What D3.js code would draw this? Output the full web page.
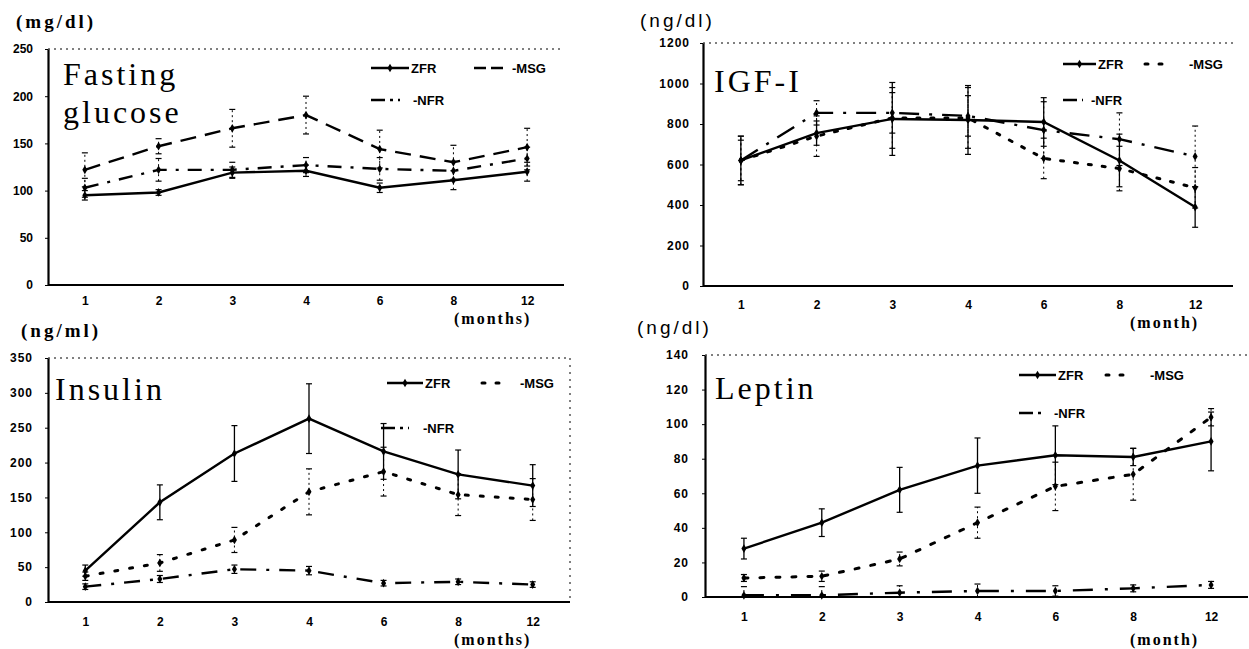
<!DOCTYPE html>
<html><head><meta charset="utf-8">
<script src="https://cdn.jsdelivr.net/npm/d3@7"></script>
<style>
body{margin:0;background:#fff;}
svg{display:block;}
</style></head>
<body>
<svg id="c" width="1249" height="649"></svg>
<script>
// ---- data ----
const months = ["1","2","3","4","6","8","12"];
const seriesNames = ["ZFR","MSG","NFR"];

const glucoseZFR = [95, 98, 119, 121, 103, 111, 120];
const glucoseMSG = [122, 147, 166, 180, 144, 130, 146];
const glucoseNFR = [103, 122, 122, 127, 123, 121, 134];
const glucoseErrZFR = [5, 3, 6, 6, 5, 10, 10];
const glucoseErrMSG = [18, 8, 20, 20, 20, 18, 20];
const glucoseErrNFR = [10, 12, 8, 8, 12, 10, 12];

const igfZFR = [620, 755, 825, 820, 810, 620, 390];
const igfMSG = [620, 740, 830, 830, 630, 580, 485];
const igfNFR = [620, 855, 855, 840, 770, 725, 640];
const igfErrZFR = [120, 60, 180, 170, 120, 130, 100];
const igfErrMSG = [120, 100, 150, 150, 100, 110, 100];
const igfErrNFR = [100, 60, 100, 100, 140, 130, 150];

const insulinZFR = [45, 143, 213, 263, 216, 183, 167];
const insulinMSG = [37, 56, 89, 158, 187, 154, 147];
const insulinNFR = [22, 33, 47, 45, 27, 29, 25];
const insulinErrZFR = [8, 25, 40, 50, 40, 35, 30];
const insulinErrMSG = [6, 12, 18, 33, 35, 30, 30];
const insulinErrNFR = [4, 5, 6, 6, 4, 4, 4];

const leptinZFR = [28, 43, 62, 76, 82, 81, 90];
const leptinMSG = [11, 12, 22, 43, 64, 71, 104];
const leptinNFR = [1, 1, 2.5, 3.5, 3.5, 5, 7];
const leptinErrZFR = [6, 8, 13, 16, 17, 5, 17];
const leptinErrMSG = [2, 3, 4, 9, 14, 15, 5];
const leptinErrNFR = [5, 5, 4, 4, 3, 2, 2];

const glucoseTicks = [0, 50, 100, 150, 200, 250];
const igfTicks = [0, 200, 400, 600, 800, 1000, 1200];
const insulinTicks = [0, 50, 100, 150, 200, 250, 300, 350];
const leptinTicks = [0, 20, 40, 60, 80, 100, 120, 140];

const titles = [["Fasting","glucose"], ["IGF-I"], ["Insulin"], ["Leptin"]];
const units = ["(mg/dl)", "(ng/dl)", "(ng/ml)", "(ng/dl)"];
const xUnits = ["(months)", "(month)", "(months)", "(month)"];

// ---- panels (layout) ----
const panels = [
  {vals:[glucoseZFR,glucoseMSG,glucoseNFR], errs:[glucoseErrZFR,glucoseErrMSG,glucoseErrNFR], ticks:glucoseTicks,
   L:48,R:564,T:49,B:285, title:titles[0], unit:units[0], xunit:xUnits[0],
   unitFont:"bold 19px 'Liberation Serif'", unitX:16, unitY:28, xunitX:454, xunitY:324,
   titleX:63, titleY:85, tickEnd:33, xTickY:301,
   dash:[null,"16,9","14,9,3,9"], dotted:false,
   leg:[{x1:371,x2:409,y:68,tx:411},{x1:474,x2:505,y:68,tx:512},{x1:371,x2:400,y:100,tx:413}]},
  {vals:[igfZFR,igfMSG,igfNFR], errs:[igfErrZFR,igfErrMSG,igfErrNFR], ticks:igfTicks,
   L:703,R:1233,T:43,B:286, title:titles[1], unit:units[1], xunit:xUnits[1],
   unitFont:"19px 'Liberation Sans'", unitX:640, unitY:27, xunitX:1130, xunitY:328,
   titleX:714, titleY:92, tickEnd:690, xTickY:305,
   dash:[null,"3,11","20,10,3,10"], dotted:true,
   leg:[{x1:1063,x2:1096,y:64,tx:1098},{x1:1145,x2:1172,y:64,tx:1189},{x1:1063,x2:1083,y:100,tx:1091}]},
  {vals:[insulinZFR,insulinMSG,insulinNFR], errs:[insulinErrZFR,insulinErrMSG,insulinErrNFR], ticks:insulinTicks,
   L:48,R:570,T:358,B:602, title:titles[2], unit:units[2], xunit:xUnits[2],
   unitFont:"bold 19px 'Liberation Serif'", unitX:21, unitY:337, xunitX:454, xunitY:645,
   titleX:55, titleY:400, tickEnd:33, xTickY:622,
   dash:[null,"3,12","16,10,3,10"], dotted:true,
   leg:[{x1:387,x2:423,y:383,tx:425},{x1:482,x2:504,y:383,tx:520},{x1:381,x2:409,y:428,tx:423}]},
  {vals:[leptinZFR,leptinMSG,leptinNFR], errs:[leptinErrZFR,leptinErrMSG,leptinErrNFR], ticks:leptinTicks,
   L:705,R:1250,T:355,B:597, title:titles[3], unit:units[3], xunit:xUnits[3],
   unitFont:"19px 'Liberation Sans'", unitX:637, unitY:334, xunitX:1130, xunitY:645,
   titleX:715, titleY:399, tickEnd:689, xTickY:617,
   dash:[null,"4,12","20,12,3,12"], dotted:true,
   leg:[{x1:1019,x2:1056,y:375,tx:1058},{x1:1106,x2:1130,y:375,tx:1150},{x1:1019,x2:1041,y:413,tx:1054}]}
];

const svg = d3.select("#c");
const diamond = d3.symbol().type(d3.symbolDiamond).size(22);

panels.forEach((p, pi) => {
  const g = svg.append("g");
  const x = d3.scalePoint().domain(months).range([p.L, p.R]).padding(0.5);
  const y = d3.scaleLinear().domain([0, d3.max(p.ticks)]).range([p.B, p.T]);

  // dotted top border
  g.append("line").attr("x1", p.L).attr("x2", Math.min(p.R, 1248)).attr("y1", y(d3.max(p.ticks))).attr("y2", y(d3.max(p.ticks)))
    .attr("stroke", "#000").attr("stroke-width", 1).attr("stroke-dasharray", "2,4");
  if (pi === 2) {
    g.append("line").attr("x1", p.R).attr("x2", p.R).attr("y1", p.T).attr("y2", p.B)
      .attr("stroke", "#000").attr("stroke-width", 1).attr("stroke-dasharray", "2,5");
  }

  // y axis
  const ya = g.append("g").attr("transform", `translate(${p.L},0)`)
    .call(d3.axisLeft(y).tickValues(p.ticks).tickFormat(d3.format("d")).tickSize(3).tickSizeOuter(0));
  ya.select(".domain").attr("stroke-width", 2.2);
  ya.selectAll("text").attr("x", -(p.L - p.tickEnd)).attr("text-anchor", "end")
    .style("font", "bold 12px 'Liberation Sans'").style("letter-spacing", pi === 0 ? "0px" : "1px").attr("fill", "#000");

  // x axis
  const xa = g.append("g").attr("transform", `translate(0,${p.B})`)
    .call(d3.axisBottom(x).tickSize(0).tickSizeOuter(0));
  xa.select(".domain").attr("stroke-width", 2.2).attr("d", `M${p.L},0H${Math.min(p.R, 1248)}`);
  xa.selectAll("text").attr("y", p.xTickY - p.B).attr("dy", "0.35em")
    .style("font", "bold 12px 'Liberation Sans'").attr("fill", "#000");

  // units
  svg.append("text").attr("x", p.unitX).attr("y", p.unitY).text(p.unit)
    .style("font", p.unitFont).style("letter-spacing", "3px").attr("fill", "#000");
  svg.append("text").attr("x", p.xunitX).attr("y", p.xunitY).text(p.xunit)
    .style("font", "bold 16px 'Liberation Serif'").style("letter-spacing", "2px").attr("fill", "#000");

  // title
  p.title.forEach((t, i) => {
    svg.append("text").attr("x", p.titleX).attr("y", p.titleY + i * 38).text(t)
      .style("font", "32px 'Liberation Serif'").style("letter-spacing", "3px").attr("fill", "#000");
  });

  // error bars
  seriesNames.forEach((s, si) => {
    const vals = p.vals[si], errs = p.errs[si];
    const eg = g.append("g");
    vals.forEach((v, i) => {
      const cx = x(months[i]);
      const solid = si === 0 && pi !== 0;
      eg.append("line").attr("x1", cx).attr("x2", cx)
        .attr("y1", y(Math.max(0, v - errs[i]))).attr("y2", y(v + errs[i]))
        .attr("stroke", "#000").attr("stroke-width", solid ? 1.3 : 1)
        .attr("stroke-dasharray", solid ? null : "2,3");
      [v - errs[i], v + errs[i]].forEach(ev => {
        if (ev < 0) return;
        eg.append("line").attr("x1", cx - 3).attr("x2", cx + 3).attr("y1", y(ev)).attr("y2", y(ev))
          .attr("stroke", "#000").attr("stroke-width", 1.2);
      });
    });
  });

  // lines
  const line = d3.line().x((d, i) => x(months[i])).y(d => y(d));
  seriesNames.forEach((s, si) => {
    g.append("path").datum(p.vals[si]).attr("d", line).attr("fill", "none")
      .attr("stroke", "#000").attr("stroke-width", si === 1 && p.dotted ? 3 : 2.4)
      .attr("stroke-linecap", si === 1 && p.dotted ? "round" : "butt")
      .attr("stroke-dasharray", p.dash[si]);
    g.selectAll(null).data(p.vals[si]).join("path")
      .attr("transform", (d, i) => `translate(${x(months[i])},${y(d)})`)
      .attr("d", diamond).attr("fill", "#000");
  });

  // legend
  seriesNames.forEach((s, si) => {
    const l = p.leg[si];
    g.append("line").attr("x1", l.x1).attr("x2", l.x2).attr("y1", l.y).attr("y2", l.y)
      .attr("stroke", "#000").attr("stroke-width", si === 1 && p.dotted ? 3 : 2.4)
      .attr("stroke-linecap", si === 1 && p.dotted ? "round" : "butt")
      .attr("stroke-dasharray", si === 0 ? null : (si === 1 ? (p.dotted ? "3,11" : "12,5") : "14,5,3,5"));
    if (si === 0) g.append("path").attr("transform", `translate(${(l.x1 + l.x2) / 2},${l.y})`).attr("d", diamond).attr("fill", "#000");
    g.append("text").attr("x", l.tx).attr("y", l.y).attr("dy", "0.36em").text((si === 0 ? "" : "-") + s)
      .style("font", "bold 13px 'Liberation Sans'").attr("fill", "#000");
  });
});
</script>
</body></html>
